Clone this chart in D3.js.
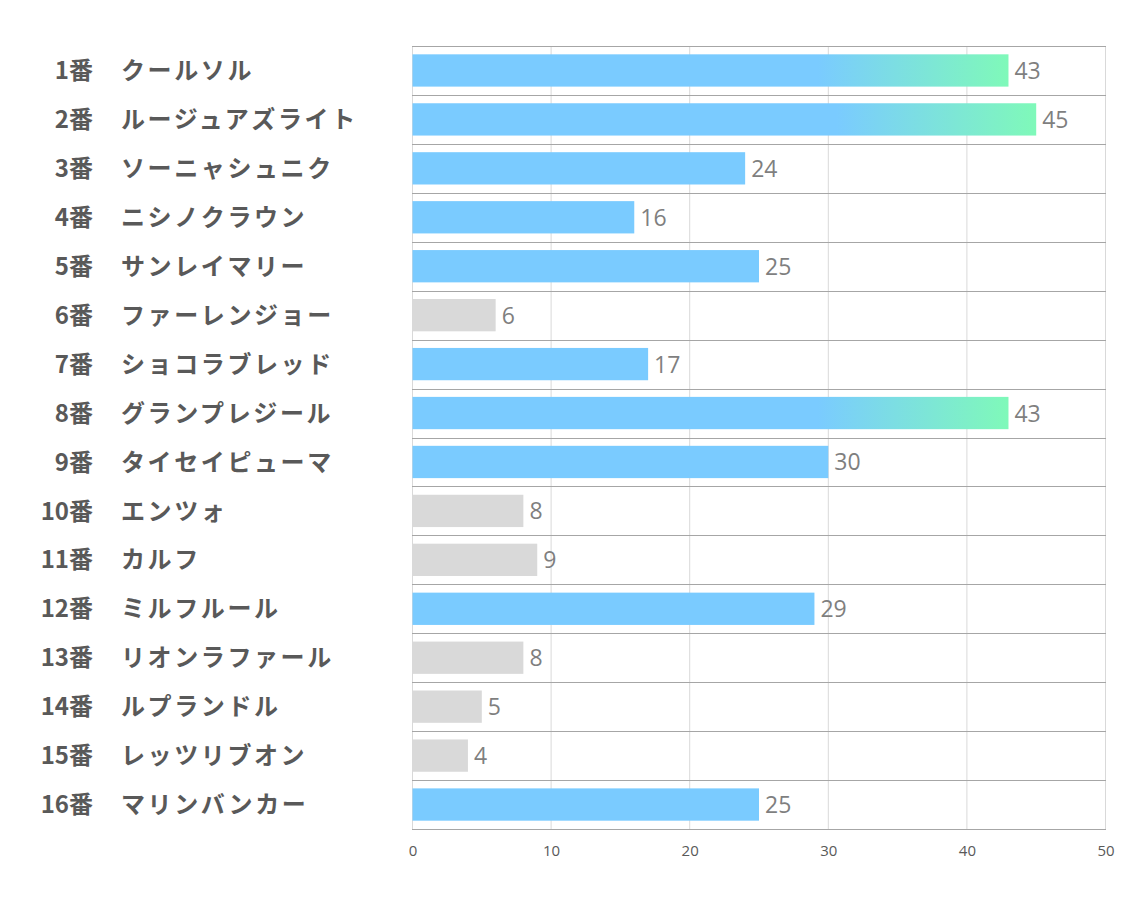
<!DOCTYPE html>
<html><head><meta charset="utf-8">
<script src="https://cdn.jsdelivr.net/npm/d3@7"></script>
<style>body{margin:0;background:#fff;}</style>
</head><body>
<script>
const numbers = ["1番","2番","3番","4番","5番","6番","7番","8番","9番","10番","11番","12番","13番","14番","15番","16番"];
const names = ["クールソル","ルージュアズライト","ソーニャシュニク","ニシノクラウン","サンレイマリー","ファーレンジョー","ショコラブレッド","グランプレジール","タイセイピューマ","エンツォ","カルフ","ミルフルール","リオンラファール","ルプランドル","レッツリブオン","マリンバンカー"];
const values = [43,45,24,16,25,6,17,43,30,8,9,29,8,5,4,25];
const xTicks = [0,10,20,30,40,50];

const W=1134,H=907;
const svg=d3.select("body").append("svg").attr("width",W).attr("height",H);
const x=d3.scaleLinear().domain([0,50]).range([412.5,1105.5]);
const y=d3.scaleBand().domain(d3.range(numbers.length)).range([46,829]).paddingInner(0.34).paddingOuter(0.17);

const defs=svg.append("defs");
const g=defs.append("linearGradient").attr("id","grad").attr("x1","0").attr("x2","1").attr("y1","0").attr("y2","0");
g.append("stop").attr("offset","0.68").attr("stop-color","#7acbff");
g.append("stop").attr("offset","1").attr("stop-color","#7ff9b9");

svg.selectAll("line.v").data(xTicks).enter().append("line")
 .attr("x1",d=>x(d)).attr("x2",d=>x(d)).attr("y1",46).attr("y2",829)
 .attr("stroke","#d9d9d9").attr("stroke-width",1);
const step=y.step();
svg.selectAll("line.h").data(d3.range(numbers.length+1)).enter().append("line")
 .attr("x1",412).attr("x2",1106).attr("y1",d=>Math.round(46+d*step)+0.5).attr("y2",d=>Math.round(46+d*step)+0.5)
 .attr("stroke","#a6a6a6").attr("stroke-width",1);

svg.selectAll("rect.bar").data(values).enter().append("rect")
 .attr("x",x(0)).attr("y",(d,i)=>y(i)).attr("width",d=>x(d)-x(0)).attr("height",y.bandwidth())
 .attr("fill",d=>d>=40?"url(#grad)":(d<10?"#d9d9d9":"#7acbff"));

svg.selectAll("text.val").data(values).enter().append("text")
 .attr("x",d=>x(d)+6).attr("y",(d,i)=>y(i)+y.bandwidth()/2).attr("dy","0.37em")
 .attr("font-family","'Open Sans','Noto Sans',sans-serif").attr("font-size",23).attr("fill","#7f7f7f")
 .text(d=>d);

const lab=svg.append("g").attr("font-family","'Noto Sans CJK JP',sans-serif").attr("font-weight","bold").attr("font-size",24).attr("fill","#595959");
lab.selectAll("text.num").data(numbers).enter().append("text")
 .attr("x",93).attr("y",(d,i)=>y(i)+y.bandwidth()/2).attr("dy","0.36em").attr("text-anchor","end").text(d=>d);
lab.selectAll("text.name").data(names).enter().append("text")
 .attr("x",121).attr("y",(d,i)=>y(i)+y.bandwidth()/2).attr("dy","0.36em").attr("letter-spacing",2.6).text(d=>d);

const ax=svg.append("g").attr("transform","translate(0,829)")
 .call(d3.axisBottom(x).tickValues(xTicks).tickSize(0).tickPadding(16));
ax.select(".domain").remove();
ax.selectAll("text").attr("font-family","'Open Sans','Noto Sans',sans-serif").attr("font-size",15).attr("fill","#595959");
</script>
</body></html>
